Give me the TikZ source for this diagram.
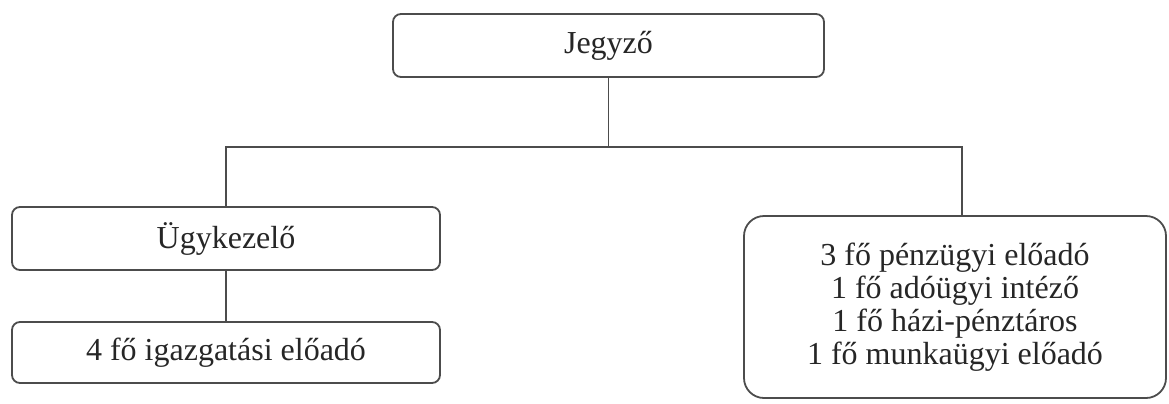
\documentclass[tikz,border=0pt]{standalone}
\usepackage{fontspec}
\setmainfont{Liberation Serif}
\usetikzlibrary{positioning,calc}

\begin{document}
\begin{tikzpicture}[
  x=0.5pt, y=-0.5pt, line width=0.9pt, draw=black!70,
  unit/.style={rectangle, rounded corners=4pt, draw=black!70, align=center,
    font=\fontsize{16}{16.5}\selectfont, text=black!85, inner sep=0pt},
  group/.style={unit, rounded corners=10pt},
]
\useasboundingbox (0,0) rectangle (1169,403);
\node[unit, minimum width=215.5pt, minimum height=31.5pt] (jegyzo) at (608.5,45.5) {Jegyző};
\node[unit, minimum width=214pt, minimum height=31.5pt] (ugyk) at (226,238.5) {Ügykezelő};
\node[unit, minimum width=214pt, minimum height=30.5pt] (igazg) at (226,352.5) {4 fő igazgatási előadó};
\node[group, minimum width=211pt, minimum height=91pt] (penz) at (955,307)
  {3 fő pénzügyi előadó\\1 fő adóügyi intéző\\1 fő házi-pénztáros\\1 fő munkaügyi előadó};
\coordinate (bus) at (608.5,147);
\draw (jegyzo.south) -- (bus);
\draw (ugyk.north) |- (bus) -| ([xshift=3.5pt]penz.north);
\draw (ugyk.south) -- (igazg.north);
\end{tikzpicture}
\end{document}
